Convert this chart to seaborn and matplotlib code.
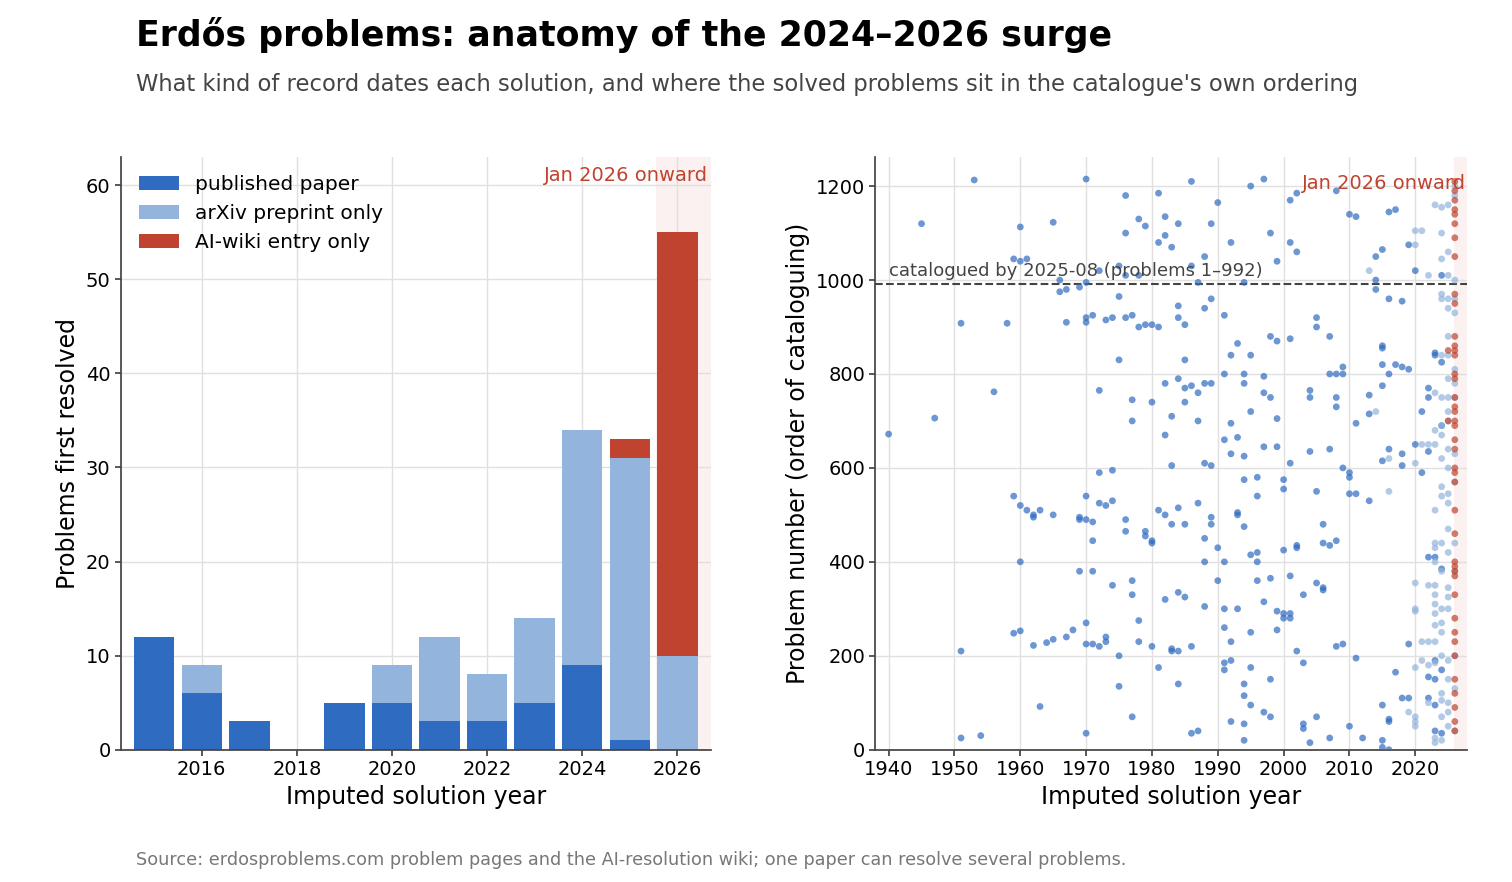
import matplotlib
matplotlib.use("Agg")
import matplotlib.pyplot as plt
import seaborn as sns
import pandas as pd
import numpy as np

sns.set_theme(style="whitegrid")
plt.rcParams['font.family'] = ['DejaVu Sans']
plt.rcParams['text.color'] = 'black'
plt.rcParams['axes.labelcolor'] = 'black'
plt.rcParams['xtick.color'] = 'black'
plt.rcParams['ytick.color'] = 'black'

years = [2015, 2016, 2017, 2018, 2019, 2020, 2021, 2022, 2023, 2024, 2025, 2026]
published = [12, 6, 3, 0, 5, 5, 3, 3, 5, 9, 1, 0]
arxiv = [0, 3, 0, 0, 0, 4, 9, 5, 9, 25, 30, 10]
aiwiki = [0, 0, 0, 0, 0, 0, 0, 0, 0, 0, 2, 45]

pub_pts = {
 1940: [672], 1945: [1120], 1947: [706], 1951: [908, 210, 25], 1953: [1213], 1954: [30],
 1956: [762], 1958: [908], 1959: [1045, 540, 248], 1960: [1113, 1040, 400, 253, 520],
 1961: [1045, 510], 1962: [495, 500, 222], 1963: [92, 510], 1964: [228],
 1965: [1123, 500, 235], 1966: [975, 1000], 1967: [980, 910, 240], 1968: [255],
 1969: [985, 495, 490, 380], 1970: [1215, 995, 920, 910, 540, 490, 225, 270, 35],
 1971: [925, 445, 380, 225, 485], 1972: [1020, 765, 590, 525, 220], 1973: [915, 240, 230, 520],
 1974: [920, 595, 530, 350], 1975: [1030, 965, 830, 200, 135], 1976: [1180, 1100, 1010, 920, 490, 465],
 1977: [925, 745, 700, 360, 330, 70], 1978: [1130, 1010, 900, 275, 230], 1979: [1115, 905, 465, 455],
 1980: [905, 740, 445, 440, 220], 1981: [1185, 1080, 900, 510, 175], 1982: [1135, 1095, 780, 670, 320, 500],
 1983: [1070, 710, 605, 480, 215, 210], 1984: [1120, 945, 920, 790, 515, 335, 140, 210],
 1985: [905, 830, 770, 740, 480, 325], 1986: [1210, 1030, 775, 220, 35], 1987: [995, 760, 700, 525, 40],
 1988: [1050, 940, 780, 610, 450, 400, 305], 1989: [1120, 960, 780, 605, 495, 480], 1990: [1165, 430, 360],
 1991: [925, 800, 660, 400, 300, 260, 185, 170], 1992: [1080, 840, 695, 630, 230, 190, 60],
 1993: [865, 665, 505, 500, 300], 1994: [995, 800, 780, 625, 575, 475, 140, 115, 55, 20],
 1995: [1200, 840, 720, 415, 250, 175, 95], 1996: [580, 540, 420, 400, 360],
 1997: [1215, 795, 760, 645, 315, 80], 1998: [1100, 880, 750, 365, 150, 70],
 1999: [1040, 870, 705, 645, 295, 255], 2000: [575, 555, 425, 290, 280],
 2001: [1080, 1170, 875, 610, 370, 290, 280], 2002: [1060, 1185, 435, 430, 210], 2003: [330, 185, 55, 45],
 2004: [765, 750, 635, 15], 2005: [920, 900, 550, 355, 70], 2006: [480, 440, 345, 340],
 2007: [880, 800, 640, 435, 25], 2008: [1190, 800, 750, 730, 445, 220], 2009: [815, 800, 600, 225],
 2010: [1140, 590, 580, 545, 50], 2011: [1135, 695, 545, 195], 2012: [25], 2013: [755, 715, 530],
 2014: [1050, 1000, 980], 2015: [1065, 860, 855, 820, 775, 615, 95, 20, 5],
 2016: [1145, 960, 800, 640, 65, 60, 0], 2017: [1150, 820, 165], 2018: [955, 815, 630, 605, 110],
 2019: [1075, 810, 225, 110], 2020: [1020, 650], 2021: [720, 590], 2022: [770, 750, 635, 410, 155, 110],
 2023: [845, 840, 410, 190, 150, 95, 40], 2024: [1010, 825, 690, 385, 170, 35],
}
arx_pts = {
 2013: [1020], 2014: [720], 2016: [620, 550], 2019: [80],
 2020: [1075, 1105, 610, 355, 300, 295, 175, 70, 60, 50], 2021: [1105, 650, 230, 190],
 2022: [1010, 650, 350, 230, 180, 100],
 2023: [1160, 760, 680, 650, 510, 440, 430, 400, 350, 330, 310, 290, 265, 230, 185, 25, 15],
 2024: [1155, 1100, 1045, 970, 960, 840, 750, 690, 670, 620, 560, 540, 440, 380, 300, 270, 250, 200, 120, 105, 70, 20],
 2025: [1160, 1060, 1010, 960, 940, 880, 840, 790, 750, 720, 700, 640, 600, 545, 525, 470, 420, 345, 325, 300, 190, 150, 100, 80, 50],
 2026: [1200, 1180, 1000, 960, 930, 810, 780, 750, 630, 570, 440, 380, 200, 130, 40],
}
ai_pts = {
 2026: [1210, 1190, 1170, 1150, 1140, 1120, 1090, 1050, 970, 950, 880, 860, 850, 840, 800, 790, 750, 730, 720,
        700, 690, 660, 640, 600, 590, 570, 510, 460, 400, 390, 380, 370, 330, 280, 250, 230, 200, 150, 120, 90, 60, 40],
 2025: [850, 700],
}

C_PUB, C_ARX, C_AI = "#2f6bc1", "#93b4dc", "#c0432f"

rows = []
for kind, d in [("published paper", pub_pts), ("arXiv preprint only", arx_pts), ("AI-wiki entry only", ai_pts)]:
    for y, vals in d.items():
        for v in vals:
            rows.append((y, v, kind))
sc = pd.DataFrame(rows, columns=["year", "num", "kind"])

fig = plt.figure(figsize=(15.12, 8.82), dpi=100)
ax1 = fig.add_axes([0.080, 0.150, 0.390, 0.672])
ax2 = fig.add_axes([0.579, 0.150, 0.391, 0.672])

bottom2 = np.array(published) + np.array(arxiv)
ax1.bar(years, published, width=0.85, color=C_PUB, label="published paper", zorder=2, linewidth=0)
ax1.bar(years, arxiv, width=0.85, bottom=published, color=C_ARX, label="arXiv preprint only", zorder=2, linewidth=0)
ax1.bar(years, aiwiki, width=0.85, bottom=bottom2, color=C_AI, label="AI-wiki entry only", zorder=2, linewidth=0)
ax1.axvspan(2025.55, 2026.7, color=C_AI, alpha=0.07, lw=0, zorder=0)
ax1.set_xlim(2014.3, 2026.7)
ax1.set_ylim(0, 63)
ax1.set_xticks([2016, 2018, 2020, 2022, 2024, 2026])
ax1.set_xlabel("Imputed solution year", fontsize=17)
ax1.set_ylabel("Problems first resolved", fontsize=17)
ax1.text(2026.65, 61, "Jan 2026 onward", color=C_AI, fontsize=14, ha="right", va="center")
ax1.legend(loc="upper left", frameon=False, fontsize=14.5, handlelength=2.0)

ax2.axvspan(2025.9, 2027.8, color=C_AI, alpha=0.07, lw=0, zorder=0)
sns.scatterplot(data=sc, x="year", y="num", hue="kind",
                palette={"published paper": C_PUB, "arXiv preprint only": C_ARX, "AI-wiki entry only": C_AI},
                s=24, alpha=0.7, edgecolor="none", legend=False, ax=ax2, zorder=3)
ax2.axhline(992, color="#444444", ls="--", lw=1.5, zorder=2)
ax2.text(1940, 1000, "catalogued by 2025-08 (problems 1\u2013992)", fontsize=13, color="#444444", va="bottom")
ax2.text(2027.7, 1205, "Jan 2026 onward", color=C_AI, fontsize=14, ha="right", va="center")
ax2.set_xlim(1938, 2027.8)
ax2.set_ylim(0, 1262)
ax2.set_xticks(range(1940, 2021, 10))
ax2.set_xlabel("Imputed solution year", fontsize=17)
ax2.set_ylabel("Problem number (order of cataloguing)", fontsize=17)

for ax in (ax1, ax2):
    ax.tick_params(labelsize=14, left=True, bottom=True, length=4, color="#444444")
    for s in ("top", "right"):
        ax.spines[s].set_visible(False)
    for s in ("left", "bottom"):
        ax.spines[s].set_color("#444444")
    ax.grid(True, color="#e0e0e0", lw=1)
    ax.set_axisbelow(True)

fig.text(0.090, 0.960, "Erdős problems: anatomy of the 2024–2026 surge", fontsize=25, fontweight="bold", va="center", color="black")
fig.text(0.090, 0.904, "What kind of record dates each solution, and where the solved problems sit in the catalogue's own ordering",
         fontsize=16.3, color="#444444", va="center")
fig.text(0.090, 0.025, "Source: erdosproblems.com problem pages and the AI-resolution wiki; one paper can resolve several problems.",
         fontsize=12.7, color="#777777", va="center")

fig.savefig("out.png", dpi=100)
